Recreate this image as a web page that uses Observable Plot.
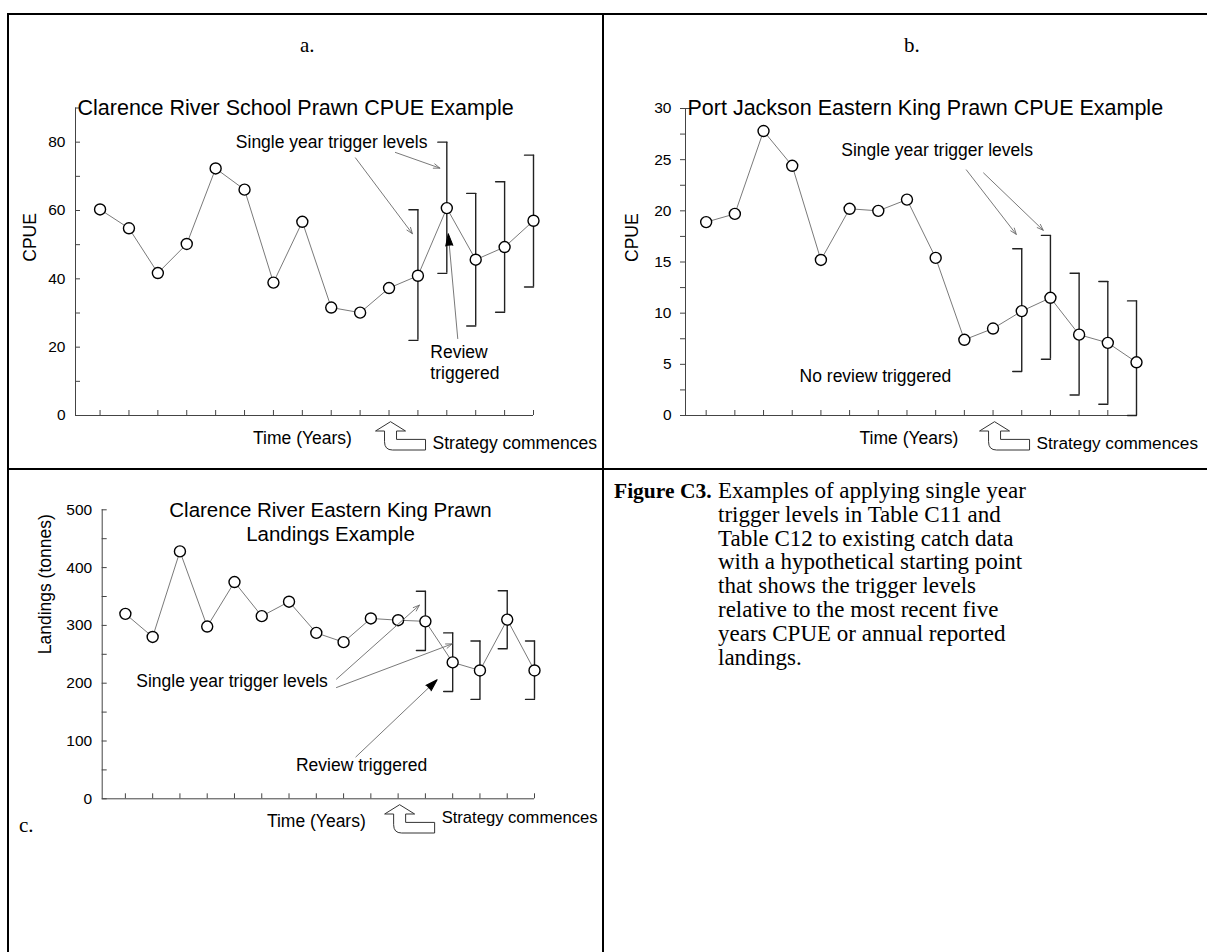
<!DOCTYPE html>
<html><head><meta charset="utf-8">
<script src="https://cdn.jsdelivr.net/npm/d3@7"></script>
<script src="https://cdn.jsdelivr.net/npm/@observablehq/plot@0.6"></script>
<style>
body{margin:0;background:#fff;}
#page{position:relative;width:1207px;height:952px;overflow:hidden;background:#fff;font-family:"Liberation Sans",Arial,sans-serif;color:#000;}
.panel{position:absolute;overflow:visible;}
.ln{position:absolute;background:#000;}
.lab{position:absolute;font-family:"Liberation Serif","Times New Roman",serif;font-size:21px;line-height:1;color:#000;}
#cap{position:absolute;left:614px;top:479px;font-family:"Liberation Serif","Times New Roman",serif;font-size:23px;line-height:23.8px;color:#000;white-space:nowrap;}
#cap b{font-size:21.5px;}
</style></head><body><div id="page">
<div class="ln" style="left:7px;top:13px;width:1200px;height:2px"></div>
<div class="ln" style="left:7px;top:13px;width:2px;height:939px"></div>
<div class="ln" style="left:602px;top:13px;width:2px;height:939px"></div>
<div class="ln" style="left:7px;top:468px;width:1200px;height:2px"></div>
<div class="lab" style="left:300px;top:35px">a.</div>
<div class="lab" style="left:904px;top:35px">b.</div>
<div class="lab" style="left:19px;top:815px">c.</div>
<div id="cap"><b>Figure C3.</b><div style="position:absolute;left:104px;top:0">Examples of applying single year<br>trigger levels in Table C11 and<br>Table C12 to existing catch data<br>with a hypothetical starting point<br>that shows the trigger levels<br>relative to the most recent five<br>years CPUE or annual reported<br>landings.</div></div>
</div>
<script>
// ---------- data ----------
const years = [1,2,3,4,5,6,7,8,9,10,11,12,13,14,15,16];
const strategyYear = 11;

// Panel a: Clarence River School Prawn CPUE
const cpueA = [60.3,54.8,41.7,50.2,72.3,66.1,38.9,56.7,31.6,30.1,37.3,40.9,60.7,45.6,49.3,57.0];
const trigYearsA = [12,13,14,15,16];
const trigLowA = [22.0,41.6,26.2,30.2,37.6];
const trigHighA = [60.2,80.0,65.0,68.4,76.2];
const yTicksA = [0,10,20,30,40,50,60,70,80,90];

// Panel b: Port Jackson Eastern King Prawn CPUE
const cpueB = [18.9,19.7,27.8,24.4,15.2,20.2,20.0,21.1,15.4,7.4,8.5,10.2,11.5,7.9,7.1,5.2];
const trigYearsB = [12,13,14,15,16];
const trigLowB = [4.3,5.5,2.0,1.1,0];
const trigHighB = [16.3,17.6,13.9,13.1,11.2];
const yTicksB = [0,2.5,5,7.5,10,12.5,15,17.5,20,22.5,25,27.5,30];

// Panel c: Clarence River Eastern King Prawn landings
const landC = [320,280,428,298,375,316,341,287,271,312,309,307,236,222,310,222];
const trigYearsC = [12,13,14,15,16];
const trigLowC = [256.6,185.6,172,259.5,172];
const trigHighC = [359,287,273,360,273];
const yTicksC = [0,50,100,150,200,250,300,350,400,450,500];

// annotation anchors (data coordinates)
const annA = {
  trigText: {x: 12.33, y: 80},
  arrows: [{x1: 9.84, y1: 75.4, x2: 11.81, y2: 53.2}, {x1: 11.22, y1: 77.0, x2: 12.76, y2: 72.4}],
  review: {x: 12.43, y: 21.0},
  reviewLine: {x1: 13.38, y1: 22.4, x2: 13.05, y2: 53.2, rotate: -5}
};
const annB = {
  trigText: {x: 9.05, y: 25.9},
  arrows: [{x1: 10.07, y1: 24.0, x2: 11.81, y2: 17.7}, {x1: 10.67, y1: 23.7, x2: 12.75, y2: 18.1}],
  noReview: {x: 6.9, y: 3.86}
};
const annC = {
  title: {x: 8.52, y: 479.5},
  trigText: {x: 4.91, y: 203},
  arrows: [{x1: 8.74, y1: 207, x2: 11.78, y2: 335}, {x1: 8.74, y1: 192.5, x2: 12.98, y2: 268}],
  review: {x: 9.66, y: 57.6},
  reviewLine: {x1: 9.44, y1: 72, x2: 12.43, y2: 206, rotate: 46}
};

// ---------- helpers ----------
const FONT = "'Liberation Sans', Arial, Helvetica, sans-serif";
const AX = "#444", LINE = "#7a7a7a", BR = "#222", ARR = "#6a6a6a";
const lineShape = {draw(c, l) { c.moveTo(0, 0); c.lineTo(0, -l); }};

function series(vals) { return years.map((y, i) => ({year: y, v: vals[i]})); }
function trig(ys, lo, hi) { return ys.map((y, i) => ({year: y, lo: lo[i], hi: hi[i]})); }

function strategyMark(xv, tipDy, textDy, fs) {
  return (index, scales) => {
    const tx = scales.x(xv) + 2, ty = scales.y(0) + tipDy;
    const g = d3.create("svg:g");
    g.append("path")
      .attr("d", `M${tx},${ty} l15,9.3 h-9 v8.4 h29 v10.6 h-33 q-8,0 -8,-8.3 v-10.7 h-9 z`)
      .attr("fill", "#fff").attr("stroke", "#333").attr("stroke-width", 1);
    g.append("text").attr("x", tx + 42).attr("y", scales.y(0) + textDy)
      .attr("dy", "0.35em").attr("font-size", fs).attr("fill", "#000")
      .attr("text-anchor", "start")
      .attr("font-family", FONT).text("Strategy commences");
    return g.node();
  };
}

function baseMarks(data, tr, yTicks, labelEvery, yTickIn, x0) {
  return [
    Plot.ruleX([x0], {stroke: AX, strokeWidth: 1}),
    Plot.ruleY([0], {stroke: AX, strokeWidth: 1}),
    Plot.axisY({ticks: yTicks, tickSize: yTickIn ? -5 : 5, tickPadding: yTickIn ? 15 : 9,
      tickFormat: d => (Math.abs(d / labelEvery - Math.round(d / labelEvery)) < 1e-9) ? d : "",
      fontSize: 15.5, stroke: AX, fill: "#000"}),
    Plot.axisX({ticks: years, tickSize: -5, tickFormat: () => "", stroke: AX}),
    Plot.line(data, {x: "year", y: "v", stroke: LINE, strokeWidth: 1}),
    Plot.ruleX(tr, {x: "year", y1: "lo", y2: "hi", stroke: BR, strokeWidth: 1.4}),
    Plot.vector(tr, {x: "year", y: "hi", length: 9, rotate: -90, anchor: "start", shape: lineShape, stroke: BR, strokeWidth: 1.4}),
    Plot.vector(tr, {x: "year", y: "lo", length: 9, rotate: -90, anchor: "start", shape: lineShape, stroke: BR, strokeWidth: 1.4}),
    Plot.dot(data, {x: "year", y: "v", r: 5.5, fill: "#fff", stroke: "#000", strokeWidth: 1.4}),
    Plot.text(["Time (Years)"], {frameAnchor: "bottom", dy: 28, dx: -2, fontSize: 17.5, fill: "#000"})
  ];
}

const STYLE = {fontFamily: FONT, fontSize: "15.5px", background: "none", color: "#000", overflow: "visible"};

// ---------- panel a ----------
const dataA = series(cpueA), trA = trig(trigYearsA, trigLowA, trigHighA);
const plotA = Plot.plot({
  width: 603, height: 470,
  marginLeft: 75, marginRight: 70, marginTop: 107.5, marginBottom: 55,
  x: {domain: [0.15, 16], axis: null},
  y: {domain: [0, 90], axis: null},
  style: STYLE,
  marks: [
    ...baseMarks(dataA, trA, yTicksA, 20, true, 0.15),
    Plot.text(["Clarence River School Prawn CPUE Example"], {frameAnchor: "top-left", dx: 2, fontSize: 21.5, textAnchor: "start", lineAnchor: "middle", fill: "#000"}),
    Plot.text(["CPUE"], {frameAnchor: "left", dx: -45, rotate: -90, fontSize: 17.5, fill: "#000"}),
    Plot.text([annA.trigText], {x: "x", y: "y", text: () => "Single year trigger levels", textAnchor: "end", fontSize: 17.5, fill: "#000"}),
    Plot.arrow(annA.arrows, {x1: "x1", y1: "y1", x2: "x2", y2: "y2", stroke: ARR, strokeWidth: 0.9, headLength: 11, headAngle: 40}),
    Plot.text([annA.review], {x: "x", y: "y", text: () => "Review\ntriggered", textAnchor: "start", lineAnchor: "top", lineHeight: 1.18, fontSize: 17.5, fill: "#000"}),
    Plot.link([annA.reviewLine], {x1: "x1", y1: "y1", x2: "x2", y2: "y2", stroke: ARR, strokeWidth: 0.9}),
    Plot.vector([annA.reviewLine], {x: "x2", y: "y2", rotate: "rotate", length: 12, r: 3.6, shape: "spike", anchor: "end", fill: "#000", stroke: "#000", strokeWidth: 1}),
    strategyMark(strategyYear, 6.7, 28, 17.5)
  ]
});

// ---------- panel b ----------
const dataB = series(cpueB), trB = trig(trigYearsB, trigLowB, trigHighB);
const plotB = Plot.plot({
  width: 604, height: 470,
  marginLeft: 82, marginRight: 71, marginTop: 108, marginBottom: 55,
  x: {domain: [0.28, 16], axis: null},
  y: {domain: [0, 30], axis: null},
  style: STYLE,
  marks: [
    ...baseMarks(dataB, trB, yTicksB, 5, false, 0.28),
    Plot.vector([30], {x: 0.28, y: d => d, length: 5, rotate: 90, anchor: "start", shape: lineShape, stroke: AX, strokeWidth: 1}),
    Plot.text(["Port Jackson Eastern King Prawn CPUE Example"], {frameAnchor: "top-left", dx: 2, fontSize: 21.5, textAnchor: "start", lineAnchor: "middle", fill: "#000"}),
    Plot.text(["CPUE"], {frameAnchor: "left", dx: -53, rotate: -90, fontSize: 17.5, fill: "#000"}),
    Plot.text([annB.trigText], {x: "x", y: "y", text: () => "Single year trigger levels", fontSize: 17.5, fill: "#000"}),
    Plot.arrow(annB.arrows, {x1: "x1", y1: "y1", x2: "x2", y2: "y2", stroke: ARR, strokeWidth: 0.9, headLength: 11, headAngle: 40}),
    Plot.text([annB.noReview], {x: "x", y: "y", text: () => "No review triggered", fontSize: 17.5, fill: "#000"}),
    strategyMark(strategyYear, 6.7, 28, 17.2)
  ]
});

// ---------- panel c ----------
const dataC = series(landC), trC = trig(trigYearsC, trigLowC, trigHighC);
const plotC = Plot.plot({
  width: 603, height: 482,
  marginLeft: 101.7, marginRight: 69, marginTop: 39.3, marginBottom: 153.7,
  x: {domain: [0.15, 16], axis: null},
  y: {domain: [0, 500], axis: null},
  style: STYLE,
  marks: [
    ...baseMarks(dataC, trC, yTicksC, 100, true, 0.15),
    Plot.text([annC.title], {x: "x", y: "y", text: () => "Clarence River Eastern King Prawn\nLandings Example", lineHeight: 1.15, fontSize: 20.5, fill: "#000"}),
    Plot.text(["Landings (tonnes)"], {frameAnchor: "left", dx: -57, rotate: -90, fontSize: 17.5, fill: "#000"}),
    Plot.text([annC.trigText], {x: "x", y: "y", text: () => "Single year trigger levels", fontSize: 17.5, fill: "#000"}),
    Plot.arrow(annC.arrows, {x1: "x1", y1: "y1", x2: "x2", y2: "y2", stroke: ARR, strokeWidth: 0.9, headLength: 11, headAngle: 40}),
    Plot.text([annC.review], {x: "x", y: "y", text: () => "Review triggered", fontSize: 17.5, fill: "#000"}),
    Plot.link([annC.reviewLine], {x1: "x1", y1: "y1", x2: "x2", y2: "y2", stroke: ARR, strokeWidth: 0.9}),
    Plot.vector([annC.reviewLine], {x: "x2", y: "y2", rotate: "rotate", length: 12, r: 3.8, shape: "spike", anchor: "end", fill: "#000", stroke: "#000", strokeWidth: 1}),
    strategyMark(strategyYear, 6.4, 19, 16.6)
  ]
});

// ---------- layout ----------
const page = document.getElementById("page");
function place(node, left, top) {
  node.classList.add("panel");
  node.style.left = left + "px"; node.style.top = top + "px";
  page.appendChild(node);
}
place(plotA, 0, 0);
place(plotB, 603, 0);
place(plotC, 0, 470);
</script>
</body></html>
